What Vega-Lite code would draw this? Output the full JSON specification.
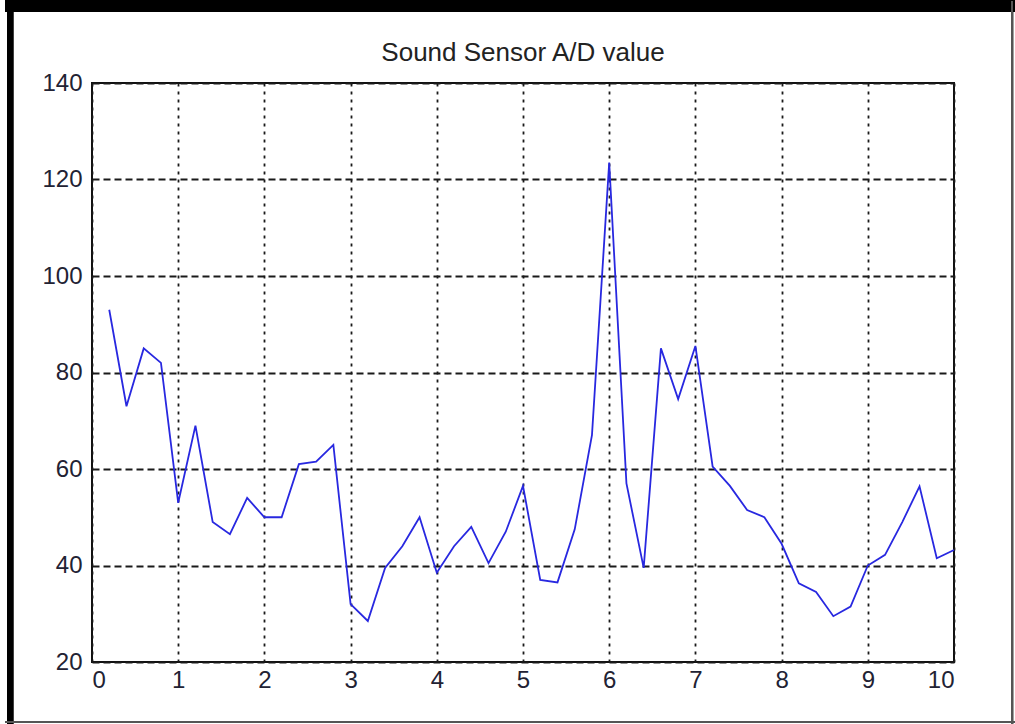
{
  "$schema": "https://vega.github.io/schema/vega-lite/v6.json",
  "width": 862,
  "height": 579,
  "autosize": {"type": "none"},
  "padding": {"left": 92, "top": 83, "right": 61, "bottom": 62},
  "background": "white",
  "title": {"text": "Sound Sensor A/D value", "font": "Liberation Sans", "fontSize": 26, "fontWeight": "normal", "color": "#222222", "offset": -68, "anchor": "middle"},
  "config": {"view": {"stroke": "#111111", "strokeWidth": 2}},
  "data": {"values": [
    {"t": 0.2, "v": 93}, {"t": 0.4, "v": 73}, {"t": 0.6, "v": 85}, {"t": 0.8, "v": 82},
    {"t": 1.0, "v": 53}, {"t": 1.2, "v": 69}, {"t": 1.4, "v": 49}, {"t": 1.6, "v": 46.5},
    {"t": 1.8, "v": 54}, {"t": 2.0, "v": 50}, {"t": 2.2, "v": 50}, {"t": 2.4, "v": 61},
    {"t": 2.6, "v": 61.5}, {"t": 2.8, "v": 65}, {"t": 3.0, "v": 32}, {"t": 3.2, "v": 28.5},
    {"t": 3.4, "v": 39.5}, {"t": 3.6, "v": 44}, {"t": 3.8, "v": 50}, {"t": 4.0, "v": 38.5},
    {"t": 4.2, "v": 44}, {"t": 4.4, "v": 48}, {"t": 4.6, "v": 40.5}, {"t": 4.8, "v": 47},
    {"t": 5.0, "v": 56.5}, {"t": 5.2, "v": 37}, {"t": 5.4, "v": 36.5}, {"t": 5.6, "v": 47.5},
    {"t": 5.8, "v": 67}, {"t": 6.0, "v": 123.5}, {"t": 6.2, "v": 57}, {"t": 6.4, "v": 39.5},
    {"t": 6.6, "v": 85}, {"t": 6.8, "v": 74.5}, {"t": 7.0, "v": 85.5}, {"t": 7.2, "v": 60.5},
    {"t": 7.4, "v": 56.5}, {"t": 7.6, "v": 51.5}, {"t": 7.8, "v": 50}, {"t": 8.0, "v": 44.5},
    {"t": 8.2, "v": 36.3}, {"t": 8.4, "v": 34.5}, {"t": 8.6, "v": 29.5}, {"t": 8.8, "v": 31.5},
    {"t": 9.0, "v": 40}, {"t": 9.2, "v": 42.2}, {"t": 9.4, "v": 49}, {"t": 9.6, "v": 56.4},
    {"t": 9.8, "v": 41.5}, {"t": 10.0, "v": 43.2}
  ]},
  "layer": [
    {
      "mark": {"type": "line", "color": "#2828e0", "strokeWidth": 1.8},
      "encoding": {
        "x": {"field": "t", "type": "quantitative", "scale": {"domain": [0, 10], "nice": false},
          "axis": {"title": null, "values": [0,1,2,3,4,5,6,7,8,9,10], "format": "d", "grid": true, "gridDash": [3, 5], "gridColor": "#1a1a1a", "gridWidth": 1.8, "domain": false, "ticks": false, "labelPadding": 6, "labelFont": "Liberation Sans", "labelFontSize": 24, "labelColor": "#222233"}},
        "y": {"field": "v", "type": "quantitative", "scale": {"domain": [20, 140], "nice": false, "zero": false},
          "axis": {"title": null, "values": [20,40,60,80,100,120,140], "format": "d", "grid": true, "gridDash": [7, 4], "gridColor": "#1a1a1a", "gridWidth": 1.8, "domain": false, "ticks": false, "labelPadding": 10, "labelFont": "Liberation Sans", "labelFontSize": 24, "labelColor": "#222233"}}
      }
    },
    {
      "mark": {"type": "rule", "color": "black", "strokeWidth": 12},
      "encoding": {"x": {"datum": -1.0}, "x2": {"datum": 10.8}, "y": {"datum": 156}}
    },
    {
      "mark": {"type": "rule", "color": "black", "strokeWidth": 6},
      "encoding": {"x": {"datum": -0.951}, "y": {"datum": 157}, "y2": {"datum": 6}}
    },
    {
      "mark": {"type": "rule", "color": "#555555", "strokeWidth": 2},
      "encoding": {"x": {"datum": 10.673}, "y": {"datum": 157}, "y2": {"datum": 6}}
    },
    {
      "mark": {"type": "rule", "color": "#555555", "strokeWidth": 2},
      "encoding": {"x": {"datum": -1.0}, "x2": {"datum": 10.7}, "y": {"datum": 7.56}}
    }
  ]
}
